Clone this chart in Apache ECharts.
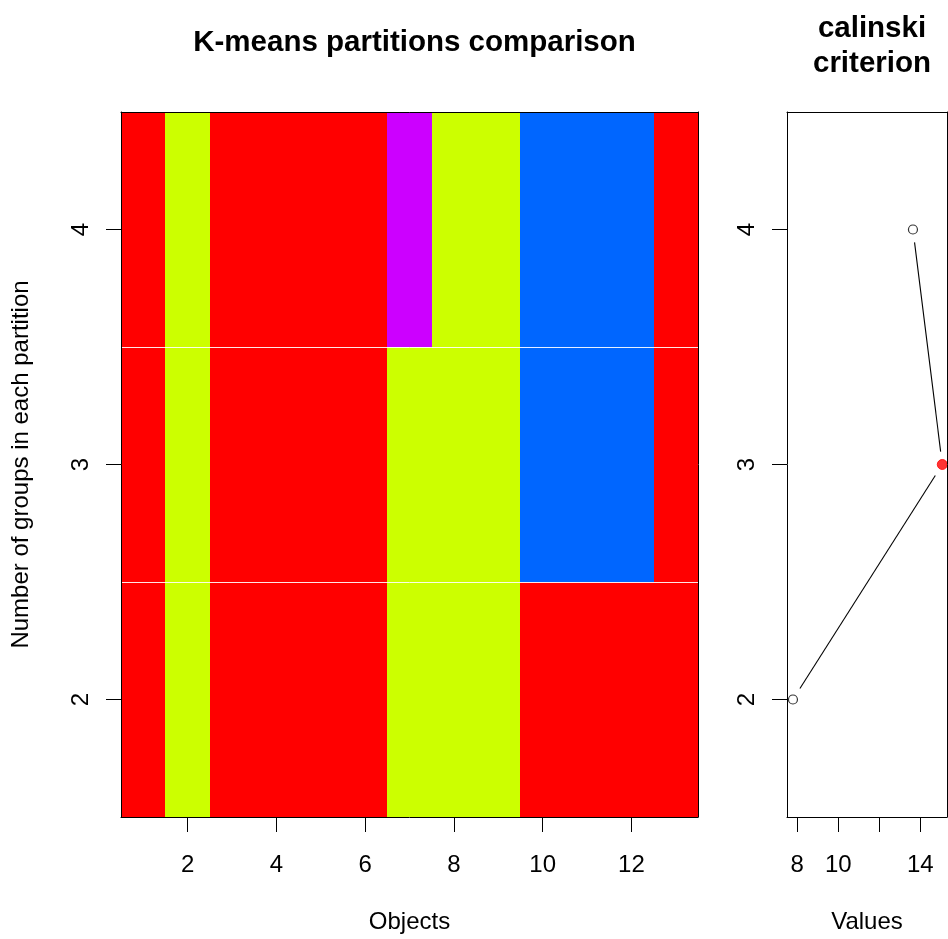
<!DOCTYPE html>
<html>
<head>
<meta charset="utf-8">
<script src="https://cdn.jsdelivr.net/npm/echarts@6/dist/echarts.min.js"></script>
<style>html,body{margin:0;padding:0;background:#fff;}#main{width:948px;height:939px;}</style>
</head>
<body>
<div id="main"></div>
<script>
// ---- data ----
const objects = [1, 2, 3, 4, 5, 6, 7, 8, 9, 10, 11, 12, 13];
const groupCounts = [2, 3, 4];
const partitionK2 = [1, 2, 1, 1, 1, 1, 2, 2, 2, 1, 1, 1, 1];
const partitionK3 = [1, 2, 1, 1, 1, 1, 2, 2, 2, 3, 3, 3, 1];
const partitionK4 = [1, 2, 1, 1, 1, 1, 4, 2, 2, 3, 3, 3, 1];
const clusterColors = ['#FF0000', '#CCFF00', '#0066FF', '#CC00FF'];
const calinskiValues = [7.79, 15.07, 13.64];
const objectTicks = [2, 4, 6, 8, 10, 12];
const groupTicks = [2, 3, 4];
const valueTicks = [8, 10, 12, 14];
const valueTickLabels = [8, 10, 14];

// ---- derived ----
const partitions = [partitionK2, partitionK3, partitionK4];
const cells = [];
partitions.forEach((p, r) => p.forEach((c, i) => cells.push([objects[i], groupCounts[r], c])));
const separators = [];
for (let i = 0; i < groupCounts.length - 1; i++) separators.push([(groupCounts[i] + groupCounts[i + 1]) / 2]);
const xMin = Math.min(...objects) - 0.5, xMax = Math.max(...objects) + 0.5;
const yMin = Math.min(...groupCounts) - 0.5, yMax = Math.max(...groupCounts) + 0.5;
const bestIdx = calinskiValues.indexOf(Math.max(...calinskiValues));
const points = calinskiValues.map((v, i) => [v, groupCounts[i]]);
const segments = [];
for (let i = 0; i < points.length - 1; i++) segments.push([points[i][0], points[i][1], points[i + 1][0], points[i + 1][1]]);

const FONT = 'Liberation Sans, Arial, sans-serif';
const black = '#000';
const tickFont = 24;
const titleFont = 29.5;

function frameAxis(gridIndex, position, min, max) {
  return {
    type: 'value', gridIndex, position, z: 10, min, max,
    axisLine: { show: true, onZero: false, lineStyle: { color: black, width: 1 } },
    axisTick: { show: false }, axisLabel: { show: false }, splitLine: { show: false }
  };
}

const chart = echarts.init(document.getElementById('main'), null, { renderer: 'canvas' });
const option = {
  backgroundColor: '#fff',
  animation: false,
  textStyle: { fontFamily: FONT },
  title: [
    { text: 'K-means partitions comparison', left: 409.5, top: 23, textAlign: 'center',
      textStyle: { fontFamily: FONT, fontSize: titleFont, fontWeight: 'bold', color: black } },
    { text: 'calinski\ncriterion', left: 867, top: 6, textAlign: 'center',
      textStyle: { fontFamily: FONT, fontSize: titleFont, fontWeight: 'bold', color: black, lineHeight: 35 } }
  ],
  grid: [
    { left: 121, top: 112, width: 577, height: 705 },
    { left: 787, top: 112, width: 160, height: 705 }
  ],
  xAxis: [
    { type: 'value', gridIndex: 0, min: xMin, max: xMax, z: 10,
      name: 'Objects', nameLocation: 'middle', nameGap: 93,
      nameTextStyle: { fontFamily: FONT, fontSize: tickFont, color: black },
      axisLine: { show: true, onZero: false, lineStyle: { color: black } },
      axisTick: { show: true, length: 15, customValues: objectTicks, lineStyle: { color: black } },
      axisLabel: { customValues: objectTicks, margin: 36, fontSize: tickFont, color: black, fontFamily: FONT },
      splitLine: { show: false } },
    frameAxis(0, 'top', xMin, xMax),
    { type: 'value', gridIndex: 1, min: 7.5, max: 15.3, z: 10,
      name: 'Values', nameLocation: 'middle', nameGap: 93,
      nameTextStyle: { fontFamily: FONT, fontSize: tickFont, color: black },
      axisLine: { show: true, onZero: false, lineStyle: { color: black } },
      axisTick: { show: true, length: 15, customValues: valueTicks, lineStyle: { color: black } },
      axisLabel: { customValues: valueTickLabels, margin: 36, fontSize: tickFont, color: black, fontFamily: FONT },
      splitLine: { show: false } },
    frameAxis(1, 'top', 7.5, 15.3)
  ],
  yAxis: [
    { type: 'value', gridIndex: 0, min: yMin, max: yMax, z: 10,
      name: 'Number of groups in each partition', nameLocation: 'middle', nameGap: 88, nameRotate: 90,
      nameTextStyle: { fontFamily: FONT, fontSize: tickFont, color: black },
      axisLine: { show: true, onZero: false, lineStyle: { color: black } },
      axisTick: { show: true, length: 15, customValues: groupTicks, lineStyle: { color: black } },
      axisLabel: { customValues: groupTicks, rotate: 90, margin: 28, fontSize: tickFont, color: black, fontFamily: FONT },
      splitLine: { show: false } },
    frameAxis(0, 'right', yMin, yMax),
    { type: 'value', gridIndex: 1, min: yMin, max: yMax, z: 10,
      axisLine: { show: true, onZero: false, lineStyle: { color: black } },
      axisTick: { show: true, length: 15, customValues: groupTicks, lineStyle: { color: black } },
      axisLabel: { customValues: groupTicks, rotate: 90, margin: 28, fontSize: tickFont, color: black, fontFamily: FONT },
      splitLine: { show: false } },
    frameAxis(1, 'right', yMin, yMax)
  ],
  series: [
    { type: 'custom', xAxisIndex: 0, yAxisIndex: 0, data: cells, z: 2,
      renderItem(params, api) {
        const x = api.value(0), y = api.value(1), c = api.value(2);
        const p0 = api.coord([x - 0.5, y + 0.5]);
        const p1 = api.coord([x + 0.5, y - 0.5]);
        const x0 = Math.round(p0[0]), y0 = Math.round(p0[1]);
        const x1 = Math.round(p1[0]), y1 = Math.round(p1[1]);
        return { type: 'rect', shape: { x: x0, y: y0, width: x1 - x0, height: y1 - y0 },
          style: { fill: clusterColors[c - 1] } };
      } },
    { type: 'custom', xAxisIndex: 0, yAxisIndex: 0, data: separators, z: 3,
      renderItem(params, api) {
        const y = api.value(0);
        const a = api.coord([xMin, y]), b = api.coord([xMax, y]);
        const yy = Math.round(a[1]) + 0.5;
        return { type: 'line', shape: { x1: a[0], y1: yy, x2: b[0], y2: yy },
          style: { stroke: '#ffffff', lineWidth: 1, opacity: 0.9 } };
      } },
    { type: 'custom', xAxisIndex: 2, yAxisIndex: 2, data: segments, z: 3,
      renderItem(params, api) {
        const a = api.coord([api.value(0), api.value(1)]);
        const b = api.coord([api.value(2), api.value(3)]);
        const dx = b[0] - a[0], dy = b[1] - a[1];
        const len = Math.sqrt(dx * dx + dy * dy);
        const g = 13;
        const ux = dx / len, uy = dy / len;
        return { type: 'line', shape: { x1: a[0] + ux * g, y1: a[1] + uy * g, x2: b[0] - ux * g, y2: b[1] - uy * g },
          style: { stroke: '#000', lineWidth: 1.1 } };
      } },
    { type: 'scatter', xAxisIndex: 2, yAxisIndex: 2, z: 4,
      data: points.map((p, i) => i === bestIdx
        ? { value: p, symbolSize: 10, itemStyle: { color: '#FF0000', borderColor: '#FF0000', borderWidth: 1 } }
        : { value: p, symbolSize: 9, itemStyle: { color: '#fff', borderColor: '#000', borderWidth: 1.2 } }),
      symbol: 'circle' }
  ]
};
chart.setOption(option);
</script>
</body>
</html>
